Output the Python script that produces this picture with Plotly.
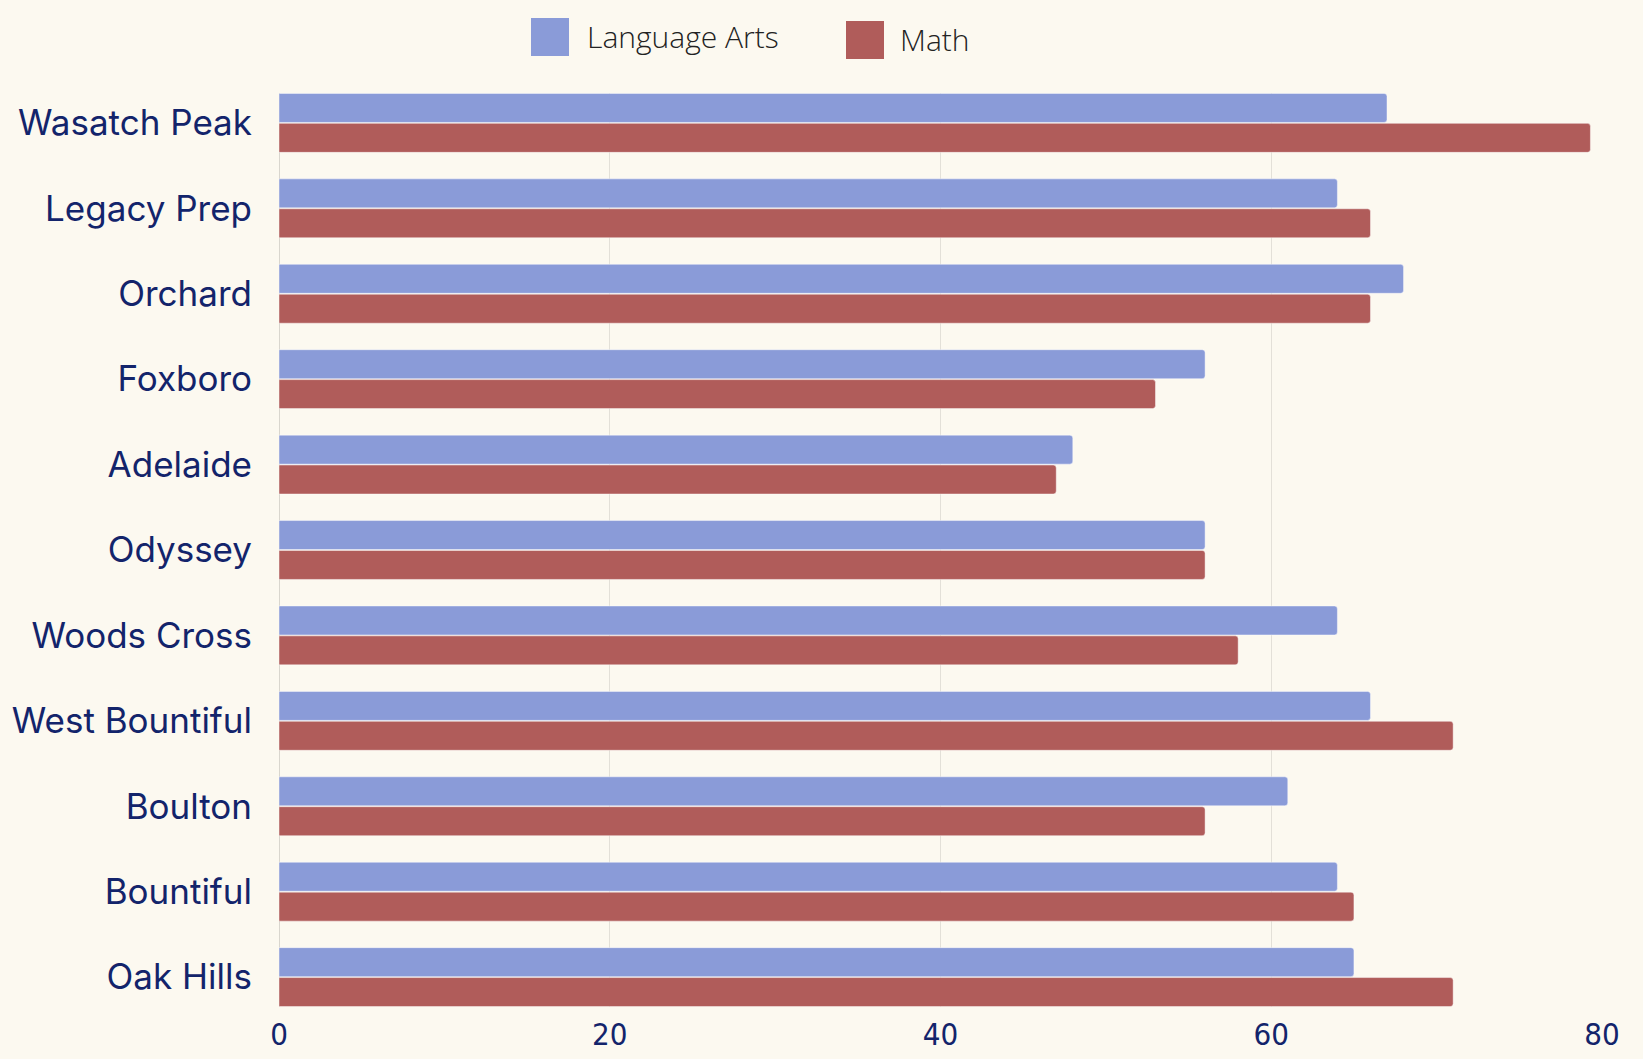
import plotly.graph_objects as go

schools = ["Wasatch Peak", "Legacy Prep", "Orchard", "Foxboro", "Adelaide", "Odyssey",
           "Woods Cross", "West Bountiful", "Boulton", "Bountiful", "Oak Hills"]
language_arts = [67, 64, 68, 56, 48, 56, 64, 66, 61, 64, 65]
math = [79.3, 66, 66, 53, 47, 56, 58, 71, 56, 65, 71]
x_ticks = [0, 20, 40, 60, 80]
series_names = ["Language Arts", "Math"]
series_colors = ["#8a9bd8", "#b05c5a"]

BG = "#fcf9f0"
NAVY = "#13246b"
W, H = 1643, 1059
ML, MR, MT, MB = 279, 41, 93, 52
PW, PH = W - ML - MR, H - MT - MB


def px_x(px):
    return (px - ML) / PW


def px_y(py):
    return (H - MB - py) / PH


fig = go.Figure()
for name, vals, col in zip(series_names, [language_arts, math], series_colors):
    fig.add_trace(go.Bar(y=schools, x=vals, orientation="h", name=name, showlegend=False,
                         marker=dict(color=col, cornerradius=3,
                                     line=dict(color="rgba(255,255,255,0.45)", width=1))))

# manual legend (large square swatches)
legend_items = [(531, 18, 585), (846, 21, 898)]
for (sx, sy, tx), name, col in zip(legend_items, series_names, series_colors):
    fig.add_shape(type="rect", xref="paper", yref="paper",
                  x0=px_x(sx), x1=px_x(sx + 38), y0=px_y(sy + 38), y1=px_y(sy),
                  fillcolor=col, line=dict(width=0))
    fig.add_annotation(xref="paper", yref="paper", x=px_x(tx), y=px_y(sy + 18),
                       xanchor="left", yanchor="middle", showarrow=False, text=name,
                       font=dict(family="Open Sans", size=30, color="#222222", weight=300))

fig.update_layout(
    width=W, height=H,
    paper_bgcolor=BG, plot_bgcolor=BG,
    margin=dict(l=ML, r=MR, t=MT, b=MB, autoexpand=False),
    barmode="group", bargap=0.30, bargroupgap=0.03,
    showlegend=False,
    xaxis=dict(range=[0, 80], tickvals=x_ticks, showgrid=True, gridcolor="#e3e0d8",
               gridwidth=1, zeroline=True, zerolinecolor="#d9d6ce", zerolinewidth=1,
               tickfont=dict(family="DejaVu Sans Condensed, DejaVu Sans", size=31, color=NAVY),
               ticks="", ticklabelstandoff=6, automargin=False),
    yaxis=dict(type="category", range=[10.35, -0.35], showgrid=False,
               tickfont=dict(family="Inter", size=35, color=NAVY), ticks="",
               ticklabelstandoff=26, automargin=False),
)

fig.write_html("out.html", config={"displayModeBar": False},
               post_script="document.body.style.margin='0';document.body.style.background='%s';" % BG)
